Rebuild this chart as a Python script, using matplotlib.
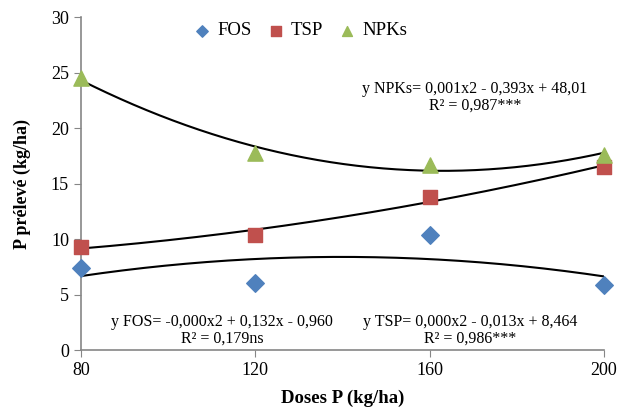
import numpy as np
import matplotlib.pyplot as plt

plt.rcParams['font.family'] = ['Liberation Serif', 'DejaVu Serif']

doses = [80, 120, 160, 200]
fos = [7.4, 6.0, 10.4, 5.9]
tsp = [9.3, 10.4, 13.8, 16.5]
npks = [24.5, 17.8, 16.7, 17.6]

fig = plt.figure(figsize=(6.17, 4.08), dpi=100)
ax = fig.add_axes([0.131, 0.142, 0.848, 0.816])

xs = np.linspace(80, 200, 200)
for ys in (fos, tsp, npks):
    c = np.polyfit(doses, ys, 2)
    ax.plot(xs, np.polyval(c, xs), color='black', lw=1.5, zorder=2)

ax.scatter(doses, fos, marker='D', s=80, color='#4F81BD', label='FOS', zorder=3, clip_on=False)
ax.scatter(doses, tsp, marker='s', s=110, color='#C0504D', label='TSP', zorder=3, clip_on=False)
ax.scatter(doses, npks, marker='^', s=120, color='#9BBB59', label='NPKs', zorder=3, clip_on=False)

ax.set_xlim(80, 200)
ax.set_ylim(0, 30)
ax.set_xticks(doses)
ax.set_yticks(range(0, 31, 5))
for s in ('top', 'right'):
    ax.spines[s].set_visible(False)
for s in ('left', 'bottom'):
    ax.spines[s].set_color('#868686')
    ax.spines[s].set_linewidth(1.2)
ax.tick_params(colors='#868686', labelcolor='black', labelsize=13, length=5)

ax.set_xlabel('Doses P (kg/ha)', fontsize=13.5, fontweight='bold', labelpad=8)
ax.set_ylabel('P prélevé (kg/ha)', fontsize=13, fontweight='bold', labelpad=14)

ax.legend(loc='upper center', bbox_to_anchor=(0.41, 1.035), ncol=3, frameon=False,
          fontsize=13.5, handletextpad=-0.2, columnspacing=0.3, markerscale=0.65)

ax.text(0.753, 0.76, 'y NPKs= 0,001x2 - 0,393x + 48,01\nR² = 0,987***',
        transform=ax.transAxes, ha='center', va='center', fontsize=11.5, linespacing=1.05)
ax.text(0.27, 0.06, 'y FOS= -0,000x2 + 0,132x - 0,960\nR² = 0,179ns',
        transform=ax.transAxes, ha='center', va='center', fontsize=11.5, linespacing=1.05)
ax.text(0.744, 0.06, 'y TSP= 0,000x2 - 0,013x + 8,464\nR² = 0,986***',
        transform=ax.transAxes, ha='center', va='center', fontsize=11.5, linespacing=1.05)

fig.savefig('out.png', dpi=100)
